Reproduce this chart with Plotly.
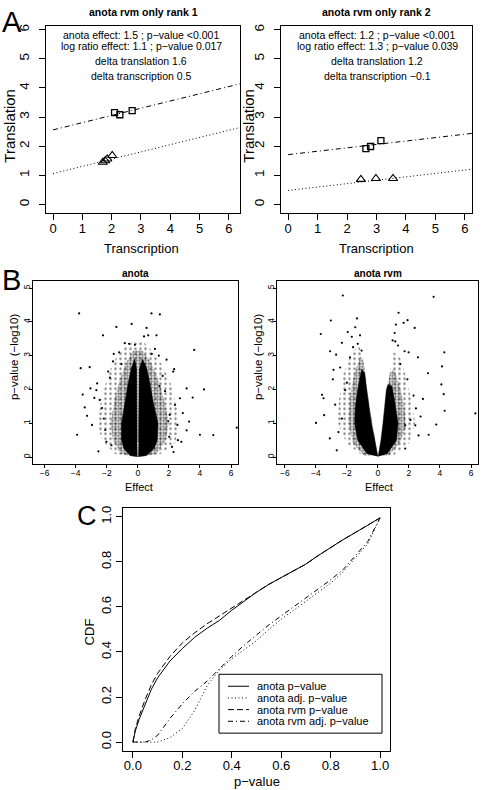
import plotly.graph_objects as go

W, H = 484, 790
FONT = "Liberation Sans, Arial, Helvetica, sans-serif"

# ---------------- Panel A data ----------------
a1_sq_x = [2.10, 2.28, 2.70]
a1_sq_y = [3.15, 3.08, 3.22]
a1_tri_x = [1.70, 1.78, 1.85, 2.02]
a1_tri_y = [1.45, 1.50, 1.56, 1.68]
a1_intercepts = [2.56, 1.06]
a1_slope = 0.248
a1_text = ["anota effect: 1.5 ; p\u2212value <0.001",
           "log ratio effect: 1.1 ; p\u2212value 0.017",
           "delta translation 1.6",
           "delta transcription 0.5"]

a2_sq_x = [2.64, 2.80, 3.15]
a2_sq_y = [1.92, 1.99, 2.19]
a2_tri_x = [2.47, 2.98, 3.56]
a2_tri_y = [0.86, 0.89, 0.89]
a2_intercepts = [1.71, 0.48]
a2_slope = 0.117
a2_text = ["anota effect: 1.2 ; p\u2212value <0.001",
           "log ratio effect: 1.3 ; p\u2212value 0.039",
           "delta translation 1.2",
           "delta transcription \u22120.1"]

# ---------------- Panel B data ----------------
# sparse points (effect, -log10 p)
b1_x = [-3.78, 0.88, 1.42, -0.40, -1.38, -2.24, 0.56, 0.40, 0.67, 1.20, 3.63, 2.34, 4.26, 3.53,
        4.86, 4.00, 6.37, 2.80, 2.58, 2.30, -3.10, -3.68, -3.91, -3.42, -3.27, -3.05, -2.67,
        -2.62, -2.45, -2.19, -2.54, -2.02, -1.91, -1.60, -0.84, -0.56, -0.19, 1.35, 1.85, 2.28,
        3.14, 2.71, 2.39, 1.96, 3.14, 2.02, -2.80, -2.95, -2.30, -1.80, -1.55, 1.60, 1.75, 2.05,
        2.20, 1.10, 0.90, -1.20, -1.05, 2.55, -2.10, -1.70, 1.40, 2.90, 3.30, -3.55]
b1_y = [4.25, 4.25, 4.22, 3.94, 3.85, 3.60, 3.82, 3.57, 3.60, 3.60, 3.17, 2.60, 2.00, 1.76,
        0.65, 0.66, 0.87, 0.45, 0.50, 0.15, 2.66, 2.63, 0.66, 1.47, 1.22, 2.03, 1.98,
        2.18, 1.69, 1.14, 0.17, 0.45, 2.53, 2.83, 3.37, 3.35, 3.32, 3.00, 2.88, 2.53,
        2.03, 1.74, 1.54, 1.06, 0.79, 0.60, 1.75, 0.95, 1.45, 2.35, 3.05, 2.40, 1.95, 1.25,
        0.30, 3.20, 3.05, 3.10, 2.75, 0.95, 0.80, 0.35, 2.10, 1.30, 1.05, 1.85]

b2_x = [-2.26, 3.59, -3.03, -1.35, -3.68, -3.08, -2.69, -2.32, -1.94, -1.68, -1.46, -2.43,
        -2.86, -3.50, -3.60, -3.99, -3.46, -2.65, -2.54, -2.32, -2.11, 1.33, 1.66, 1.91, 2.37,
        1.16, 1.08, 1.12, 1.72, 1.98, 2.58, 3.23, 4.13, 4.28, 4.09, 2.90, 2.30, 2.45, 1.76,
        2.41, 2.62, 3.27, 4.30, 3.76, 6.28, 4.24, 1.76, -1.80, -2.00, -1.60, -2.75, -3.10,
        -1.30, -1.15, 1.45, 1.90, 2.10, 2.75, -2.90, 1.30, 0.95, -1.05]
b2_y = [4.78, 4.74, 4.04, 4.10, 3.64, 3.13, 3.03, 3.38, 3.70, 3.56, 3.84, 2.65,
        2.58, 1.74, 1.84, 1.01, 1.24, 0.20, 0.74, 1.14, 1.98, 4.27, 3.97, 4.05, 3.82,
        3.92, 3.67, 3.42, 3.13, 3.10, 2.95, 2.48, 2.68, 3.10, 2.15, 1.72, 1.82, 1.44, 0.94,
        0.94, 0.64, 0.66, 1.37, 0.96, 1.29, 1.86, 0.25, 2.95, 2.20, 3.25, 1.55, 0.55,
        3.35, 3.60, 2.75, 2.30, 1.10, 1.20, 2.30, 3.30, 3.45, 3.15]

# density regions (outline vertices): sparse halo, medium zone, dense core
b1_halo_x = [-0.3, -1.5, -2.3, -2.6, -2.4, -2.0, -1.6, -1.0, -0.4, 0.4, 1.0, 1.6, 2.1, 2.5, 2.7, 2.4, 1.5, 0.3]
b1_halo_y = [0.0, 0.1, 0.5, 1.0, 1.6, 2.3, 2.8, 3.2, 3.4, 3.4, 3.1, 2.7, 2.2, 1.5, 0.9, 0.4, 0.1, 0.0]
b1_mid_x = [-0.2, -1.1, -1.6, -1.75, -1.5, -1.15, -0.75, -0.3, 0.3, 0.85, 1.3, 1.75, 2.0, 1.8, 1.2, 0.2]
b1_mid_y = [0.0, 0.1, 0.5, 1.0, 1.7, 2.3, 2.8, 3.15, 3.15, 2.8, 2.3, 1.6, 1.0, 0.5, 0.1, 0.0]
b1_coreL_x = [-0.03, -0.5, -0.9, -1.05, -1.05, -0.85, -0.62, -0.4, -0.2, -0.08, -0.06, -0.05]
b1_coreL_y = [0.02, 0.05, 0.25, 0.5, 1.0, 1.6, 2.2, 2.65, 2.9, 2.6, 1.5, 0.45]
b1_coreR_x = [0.03, 0.56, 1.05, 1.25, 1.3, 1.0, 0.77, 0.56, 0.3, 0.1, 0.07, 0.05]
b1_coreR_y = [0.02, 0.05, 0.25, 0.5, 1.0, 1.6, 2.2, 2.65, 2.9, 2.6, 1.5, 0.45]

b2_haloL_x = [-0.1, -1.0, -2.0, -2.6, -2.5, -2.2, -1.7, -1.2, -0.95, -0.78, -0.58, -0.38, -0.15]
b2_haloL_y = [0.05, 0.05, 0.4, 1.0, 1.7, 2.5, 3.1, 3.3, 2.9, 2.2, 1.5, 1.0, 0.4]
b2_haloR_x = [0.1, 0.25, 0.38, 0.5, 0.62, 0.8, 1.0, 1.4, 1.8, 2.2, 2.4, 2.0, 1.0]
b2_haloR_y = [0.05, 0.5, 1.0, 1.5, 2.0, 2.6, 3.1, 3.0, 2.4, 1.6, 1.0, 0.4, 0.05]
b2_midL_x = [-0.05, -0.9, -1.6, -1.9, -1.8, -1.5, -1.1, -0.9, -0.74, -0.55, -0.35, -0.12]
b2_midL_y = [0.03, 0.05, 0.4, 1.0, 1.8, 2.5, 3.0, 2.8, 2.1, 1.5, 1.0, 0.4]
b2_midR_x = [0.05, 0.22, 0.36, 0.47, 0.6, 0.78, 1.05, 1.4, 1.7, 1.8, 1.4, 0.7]
b2_midR_y = [0.03, 0.5, 1.0, 1.5, 2.0, 2.5, 2.6, 2.1, 1.5, 0.9, 0.4, 0.05]
b2_coreL_x = [0.0, -0.22, -0.42, -0.58, -0.72, -0.86, -1.05, -1.3, -1.45, -1.5, -1.3, -0.7]
b2_coreL_y = [0.02, 0.5, 1.0, 1.5, 2.0, 2.5, 2.6, 2.0, 1.5, 1.0, 0.5, 0.1]
b2_coreR_x = [0.02, 0.2, 0.33, 0.43, 0.55, 0.65, 0.9, 1.1, 1.3, 1.2, 0.6]
b2_coreR_y = [0.02, 0.5, 1.0, 1.5, 2.0, 2.15, 2.1, 1.6, 1.0, 0.5, 0.1]

# ---------------- Panel C data ----------------
c_p = [0, 0.01, 0.025, 0.05, 0.075, 0.1, 0.15, 0.2, 0.25, 0.3, 0.35, 0.4, 0.45, 0.5,
       0.55, 0.6, 0.65, 0.7, 0.75, 0.8, 0.85, 0.9, 0.95, 1.0]
cdf_anota = [0, 0.05, 0.10, 0.17, 0.235, 0.285, 0.36, 0.415, 0.465, 0.505, 0.54, 0.585, 0.625, 0.665,
             0.70, 0.73, 0.76, 0.79, 0.828, 0.865, 0.898, 0.93, 0.963, 0.995]
cdf_anota_adj = [0, 0, 0, 0, 0, 0, 0.02, 0.06, 0.14, 0.25, 0.32, 0.37, 0.41, 0.45,
                 0.50, 0.545, 0.585, 0.625, 0.665, 0.705, 0.755, 0.815, 0.88, 0.995]
cdf_rvm = [0, 0.06, 0.115, 0.19, 0.255, 0.305, 0.38, 0.44, 0.485, 0.525, 0.56, 0.595, 0.63, 0.665,
           0.70, 0.73, 0.76, 0.79, 0.828, 0.865, 0.898, 0.93, 0.963, 0.995]
cdf_rvm_adj = [0, 0, 0, 0, 0.01, 0.03, 0.105, 0.17, 0.225, 0.27, 0.325, 0.38, 0.43, 0.475,
               0.52, 0.56, 0.60, 0.64, 0.68, 0.72, 0.765, 0.83, 0.89, 0.995]
legend_labels = ["anota p\u2212value", "anota adj. p\u2212value",
                 "anota rvm p\u2212value", "anota rvm adj. p\u2212value"]

# ---------------- helpers ----------------
def fx(p):
    return p / W

def fy(p):
    return 1 - p / H

fig = go.Figure()

DOT = "1px,2.5px"
DASH = "6px,3px"
DASHDOT = "5px,3px,1px,3px"

def add_A(xa, ya, sqx, sqy, trx, try_, intercepts, slope, xmax):
    lx = [0, xmax]
    fig.add_trace(go.Scatter(x=lx, y=[intercepts[0] + slope * v for v in lx], mode="lines",
                             line=dict(color="black", width=1, dash=DASHDOT), xaxis=xa, yaxis=ya,
                             showlegend=False, hoverinfo="skip"))
    fig.add_trace(go.Scatter(x=lx, y=[intercepts[1] + slope * v for v in lx], mode="lines",
                             line=dict(color="black", width=1, dash=DOT), xaxis=xa, yaxis=ya,
                             showlegend=False, hoverinfo="skip"))
    fig.add_trace(go.Scatter(x=sqx, y=sqy, mode="markers",
                             marker=dict(symbol="square-open", size=6, color="black", line=dict(width=1.3)),
                             xaxis=xa, yaxis=ya, showlegend=False))
    fig.add_trace(go.Scatter(x=trx, y=try_, mode="markers",
                             marker=dict(symbol="triangle-up-open", size=8, color="black", line=dict(width=1.1)),
                             xaxis=xa, yaxis=ya, showlegend=False))

A1_X = [-0.24, 6.38]
A2_X = [-0.24, 6.24]
A_Y = [-0.31, 6.13]
add_A("x", "y", a1_sq_x, a1_sq_y, a1_tri_x, a1_tri_y, a1_intercepts, a1_slope, A1_X[1])
add_A("x2", "y2", a2_sq_x, a2_sq_y, a2_tri_x, a2_tri_y, a2_intercepts, a2_slope, A2_X[1])

def poly(xa, ya, px, py, kind):
    if kind == "core":
        fig.add_trace(go.Scatter(x=px, y=py, mode="lines", fill="toself", line=dict(width=0.5, color="black"),
                                 fillcolor="black", xaxis=xa, yaxis=ya, showlegend=False, hoverinfo="skip"))
        return
    if kind == "mid":
        pat = dict(shape=".", fgcolor="black", bgcolor="rgba(0,0,0,0)", size=3, solidity=0.55)
    else:
        pat = dict(shape=".", fgcolor="black", bgcolor="rgba(0,0,0,0)", size=5, solidity=0.18)
    fig.add_trace(go.Scatter(x=px, y=py, mode="lines", fill="toself", line=dict(width=0),
                             fillcolor="rgba(0,0,0,0)", fillpattern=pat,
                             xaxis=xa, yaxis=ya, showlegend=False, hoverinfo="skip"))

poly("x3", "y3", b1_halo_x, b1_halo_y, "halo")
poly("x3", "y3", b1_mid_x, b1_mid_y, "mid")
poly("x3", "y3", b1_coreL_x, b1_coreL_y, "core")
poly("x3", "y3", b1_coreR_x, b1_coreR_y, "core")
poly("x4", "y4", b2_haloL_x, b2_haloL_y, "halo")
poly("x4", "y4", b2_haloR_x, b2_haloR_y, "halo")
poly("x4", "y4", b2_midL_x, b2_midL_y, "mid")
poly("x4", "y4", b2_midR_x, b2_midR_y, "mid")
poly("x4", "y4", b2_coreL_x, b2_coreL_y, "core")
poly("x4", "y4", b2_coreR_x, b2_coreR_y, "core")

fig.add_trace(go.Scatter(x=b1_x, y=b1_y, mode="markers", marker=dict(size=2.2, color="black"),
                         xaxis="x3", yaxis="y3", showlegend=False))
fig.add_trace(go.Scatter(x=b2_x, y=b2_y, mode="markers", marker=dict(size=2.2, color="black"),
                         xaxis="x4", yaxis="y4", showlegend=False))

# Panel C
for ys, d, nm in zip([cdf_anota, cdf_anota_adj, cdf_rvm, cdf_rvm_adj],
                     ["solid", DOT, DASH, DASHDOT], legend_labels):
    fig.add_trace(go.Scatter(x=c_p, y=ys, mode="lines", name=nm,
                             line=dict(color="black", width=1, dash=d),
                             xaxis="x5", yaxis="y5", showlegend=False))

def axis(domain, rng, anchor, size, ticklen, dtick, tickangle=0, standoff=2, fmt=None):
    d = dict(domain=domain, range=rng, anchor=anchor, showline=True, linecolor="black", linewidth=1,
             mirror=True, ticks="outside", ticklen=ticklen, tickwidth=1, tickcolor="black",
             showgrid=False, zeroline=False, dtick=dtick, tick0=0, tickangle=tickangle,
             ticklabelstandoff=standoff,
             tickfont=dict(size=size, family=FONT, color="black"))
    if fmt:
        d["tickformat"] = fmt
    return d

layout = dict(
    width=W, height=H, margin=dict(l=0, r=0, t=0, b=0),
    paper_bgcolor="white", plot_bgcolor="white", showlegend=False,
    font=dict(family=FONT, color="black"),
    xaxis=axis([fx(46), fx(240)], A1_X, "y", 13, 6, 1, 0, -3),
    yaxis=axis([fy(212), fy(24)], A_Y, "x", 13.5, 6, 1, -90, 5),
    xaxis2=axis([fx(281), fx(472)], A2_X, "y2", 13, 6, 1, 0, -3),
    yaxis2=axis([fy(212), fy(24)], A_Y, "x2", 13.5, 6, 1, -90, 5),
    xaxis3=axis([fx(33), fx(238)], [-6.75, 6.45], "y3", 8.5, 3, 2, 0, -2),
    yaxis3=axis([fy(463), fy(280)], [-0.2, 5.2], "x3", 8.5, 3, 1, -90, -4),
    xaxis4=axis([fx(277), fx(478)], [-6.5, 6.45], "y4", 8.5, 3, 2, 0, -2),
    yaxis4=axis([fy(463), fy(280)], [-0.2, 5.2], "x4", 8.5, 3, 1, -90, -4),
    xaxis5=axis([fx(123), fx(390)], [-0.04, 1.04], "y5", 13, 6, 0.2, 0, -4, ".1f"),
    yaxis5=axis([fy(751), fy(507)], [-0.04, 1.04], "x5", 13, 6, 0.2, -90, 0, ".1f"),
)

ann = []
def txt(x, y, s, size, bold=False, angle=0, xanchor="center"):
    ann.append(dict(x=fx(x), y=fy(y), xref="paper", yref="paper", text=("<b>%s</b>" % s) if bold else s,
                    showarrow=False, font=dict(size=size, family=FONT, color="black"),
                    textangle=angle, xanchor=xanchor, yanchor="middle"))

# panel letters
txt(0, 20, "A", 29, xanchor="left")
txt(0, 279, "B", 29, xanchor="left")
txt(75, 515, "C", 27, xanchor="left")

# Panel A titles / text
txt(143, 10, "anota rvm only rank 1", 10.5, bold=True)
txt(376, 10, "anota rvm only rank 2", 10.5, bold=True)
for lines, cx in [(a1_text, 141), (a2_text, 377)]:
    for s, yy in zip(lines, [33, 44, 59, 74]):
        txt(cx, yy, s, 10.5)
txt(141, 247, "Transcription", 13)
txt(376, 247, "Transcription", 13)
txt(10, 124, "Translation", 15, angle=-90)
txt(249, 124, "Translation", 15, angle=-90)

# Panel B
txt(135.5, 272, "anota", 10, bold=True)
txt(377.5, 272, "anota rvm", 10, bold=True)
txt(138.5, 486, "Effect", 11)
txt(378.5, 486, "Effect", 11)
txt(14, 356, "p\u2212value (\u2212log10)", 11.5, angle=-90)
txt(258, 356, "p\u2212value (\u2212log10)", 11.5, angle=-90)

# Panel C
txt(89, 632, "CDF", 13, angle=-90)
txt(257, 781, "p\u2212value", 13)

# legend (box, keys, labels)
shapes = [dict(type="rect", xref="paper", yref="paper", x0=fx(219), x1=fx(382), y0=fy(733), y1=fy(674),
               line=dict(color="black", width=1), fillcolor="white", layer="above")]
for i, (lab, d) in enumerate(zip(legend_labels, ["solid", DOT, DASH, DASHDOT])):
    yy = 686 + i * 11.7
    shapes.append(dict(type="line", xref="paper", yref="paper", x0=fx(228), x1=fx(249), y0=fy(yy), y1=fy(yy),
                       line=dict(color="black", width=1, dash=d), layer="above"))
    txt(255, yy, lab, 11, xanchor="left")

layout["annotations"] = ann
layout["shapes"] = shapes
fig.update_layout(**layout)
# remove the browser's default 8px page margin so the figure sits at the window origin
fig.write_html("out.html",
               config={"displayModeBar": False},
               post_script="document.body.style.margin='0';document.documentElement.style.margin='0';"
                           "document.body.style.overflow='hidden';")
